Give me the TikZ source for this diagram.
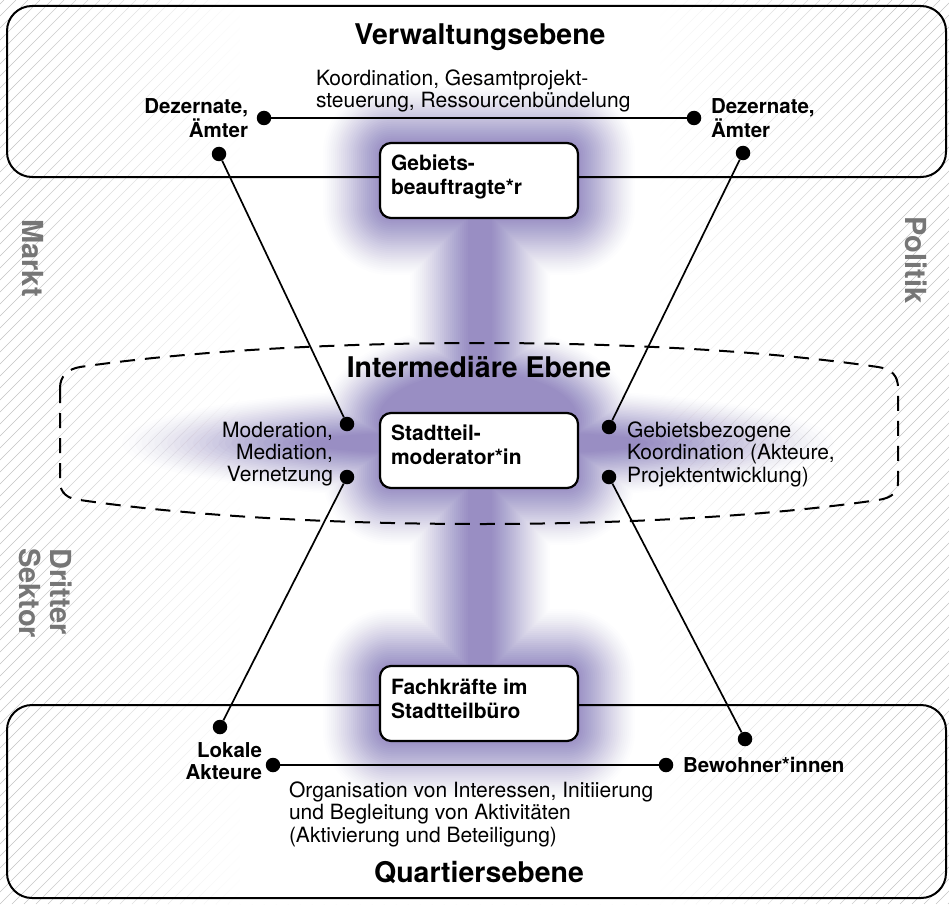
\documentclass[tikz,border=0pt]{standalone}
\usepackage{fontspec}
\setmainfont{TeX Gyre Heros}
\definecolor{glowc}{RGB}{118,98,175}
\definecolor{hatchc}{RGB}{196,196,196}
\definecolor{sidec}{RGB}{118,118,118}
\newcommand\fsreg{\fontsize{21}{22.3}\selectfont}
\newcommand\fslab{\fontsize{20.5}{22}\selectfont\bfseries}
\newcommand\fsbox{\fontsize{21}{23.5}\selectfont\bfseries}
\newcommand\fshead{\fontsize{28.5}{32}\selectfont\bfseries}
\newcommand\fsside{\fontsize{29}{30.5}\selectfont\bfseries}
\begin{document}
\begin{tikzpicture}[x=1pt,y=-1pt,
  dot/.style={circle,fill=black,inner sep=0pt,minimum size=14.5pt},
  conn/.style={line width=1.7pt,black},
  ibox/.style={draw=black,line width=2.2pt,fill=white,rounded corners=11pt,minimum width=198pt,minimum height=75pt,inner sep=0pt},
  bigbox/.style={draw=black,line width=2pt,rounded corners=25pt},
  txt/.style={inner sep=0pt,outer sep=0pt,text=black},
  side/.style={inner sep=0pt,text=sidec,font=\fsside,rotate=-90},
  hatchline/.style={hatchc,line width=0.5pt},
  dashbox/.style={line width=2pt,dash pattern=on 15pt off 10pt},
]
\fill[white] (0,0) rectangle (949,904);
\useasboundingbox (0,0) rectangle (949,904);
% hatching
\begin{scope}
\clip (0,0) rectangle (949,904);
\foreach \i in {-912,-900,...,948} \draw[hatchline] (\i,904) -- ({\i+904},0);
\end{scope}
% white clearing in the middle, fading towards the sides
\fill[white] (240,0) rectangle (660,904);
\foreach \j in {0,...,21} {
  \pgfmathsetmacro\op{(\j+0.5)/22}
  \fill[white,opacity=\op] (20+10*\j,0) rectangle (30+10*\j,904);
}
\foreach \j in {0,...,23} {
  \pgfmathsetmacro\op{1-(\j+0.5)/24}
  \fill[white,opacity=\op] (660+10*\j,0) rectangle (670+10*\j,904);
}
% glow
\foreach \r in {58,56,...,0} {
  \pgfmathsetmacro\rc{10+\r}
  \pgfmathsetmacro\ex{170+3.2*\r}
  \pgfmathsetmacro\ey{12+0.75*\r}
  \pgfmathsetmacro\mx{100+1.0*\r}
  \pgfmathsetmacro\my{48+0.8*\r}
  \pgfmathsetmacro\op{0.012+0.05*(1-\r/58)}
  \begin{scope}[transparency group,opacity=\op]
    \fill[glowc,rounded corners=\rc pt] (381-\r,144-\r) rectangle (577+\r,217+\r);
    \fill[glowc,rounded corners=\rc pt] (381-\r,414-\r) rectangle (577+\r,487+\r);
    \fill[glowc,rounded corners=\rc pt] (381-\r,667-\r) rectangle (577+\r,740+\r);
    \fill[glowc] (468-\r,200) rectangle (492+\r,690);
    \fill[glowc] (478,443) ellipse [x radius=\ex, y radius=\ey];
    \fill[glowc] (478,420) ellipse [x radius=\mx, y radius=\my];
  \end{scope}
}
% level boxes
\draw[bigbox] (7,6) rectangle (946,177);
\draw[bigbox] (7,705) rectangle (946,898);
% intermediate dashed area
\draw[dashbox] (60,388) -- (60,482) .. controls (60,493) and (68,499) .. (80,500)
  .. controls (300,532) and (660,532) .. (878,500)
  .. controls (892,498) and (898,492) .. (898,482) -- (898,388)
  .. controls (898,376) and (892,369) .. (878,367)
  .. controls (660,335) and (300,335) .. (80,367)
  .. controls (68,369) and (60,376) .. (60,388);
% dots
\node[dot] (d1) at (264,118) {};
\node[dot] (d2) at (694,118) {};
\node[dot] (d3) at (219,154) {};
\node[dot] (d4) at (743,153) {};
\node[dot] (m1) at (347,424) {};
\node[dot] (m2) at (347,477) {};
\node[dot] (m3) at (609,427) {};
\node[dot] (m4) at (609,477) {};
\node[dot] (b1) at (220,727) {};
\node[dot] (b2) at (273,765) {};
\node[dot] (b3) at (666,765) {};
\node[dot] (b4) at (745,739) {};
% connectors
\draw[conn] (d1) -- (d2);
\draw[conn] (d3) -- (m1);
\draw[conn] (d4) -- (m3);
\draw[conn] (m2) -- (b1);
\draw[conn] (m4) -- (b4);
\draw[conn] (b2) -- (b3);
% inner boxes
\node[ibox] (gb) at (479,180.5) {};
\node[ibox] (sm) at (479,450.5) {};
\node[ibox] (fk) at (479,703.5) {};
% texts
\node[txt,font=\fshead,anchor=base] (tv) at (480,45) {Verwaltungsebene};
\node[txt,font=\fsreg,anchor=north west,align=left] (tk) at (316,70) {Koordination, Gesamtprojekt-\\steuerung, Ressourcenbündelung};
\node[txt,font=\fslab,anchor=north east,align=right] (tdl) at (248,99) {Dezernate,\\Ämter};
\node[txt,font=\fslab,anchor=north west,align=left] (tdr) at (711,99) {Dezernate,\\Ämter};
\node[txt,font=\fsbox,anchor=north west,align=left] (tgb) at (391,155) {Gebiets-\\beauftragte*r};
\node[txt,font=\fshead,anchor=base] (ti) at (479,377) {Intermediäre Ebene};
\node[txt,font=\fsreg,anchor=north east,align=right] (tmo) at (333,422) {Moderation,\\Mediation,\\Vernetzung};
\node[txt,font=\fsbox,anchor=north west,align=left] (tst) at (391,425) {Stadtteil-\\moderator*in};
\node[txt,font=\fsreg,anchor=north west,align=left] (tge) at (627,422) {Gebietsbezogene\\Koordination (Akteure,\\Projektentwicklung)};
\node[txt,font=\fsbox,anchor=north west,align=left] (tfa) at (391,679) {Fachkräfte im\\Stadtteilbüro};
\node[txt,font=\fslab,anchor=north east,align=right] (tlo) at (262,743) {Lokale\\Akteure};
\node[txt,font=\fslab,anchor=base west] (tbe) at (683,772) {Bewohner*innen};
\node[txt,font=\fsreg,anchor=north west,align=left] (tor) at (289,782) {Organisation von Interessen, Initiierung\\und Begleitung von Aktivitäten\\(Aktivierung und Beteiligung)};
\node[txt,font=\fshead,anchor=base] (tq) at (479,882) {Quartiersebene};
% sector labels
\node[side] (smk) at (33,258) {Markt};
\node[side] (spo) at (916,260) {Politik};
\node[side,align=left,anchor=north west] (sds) at (72,548) {Dritter\\Sektor};
\end{tikzpicture}
\end{document}
